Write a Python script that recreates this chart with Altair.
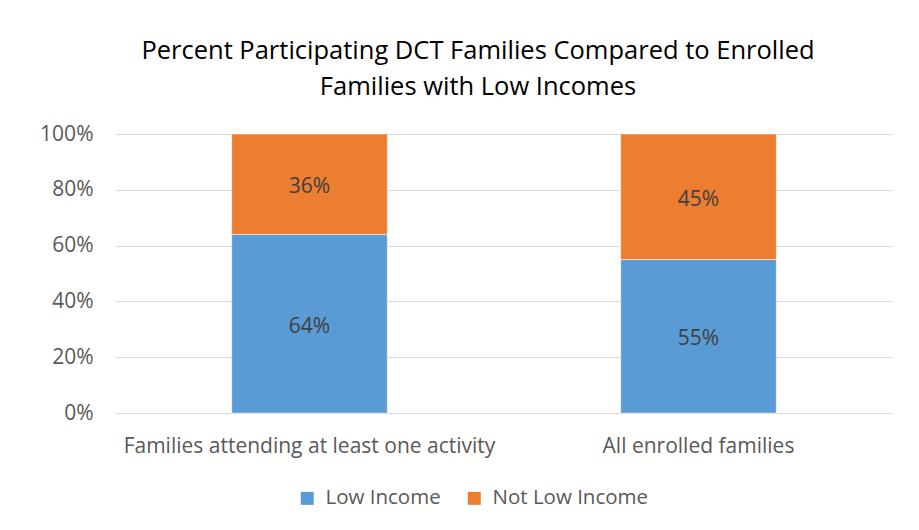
import altair as alt
import pandas as pd

categories = ["Families attending at least one activity", "All enrolled families"]
series = ["Low Income", "Not Low Income"]
low_income = [64, 55]
not_low_income = [36, 45]
colors = ["#5B9BD5", "#ED7D31"]

rows = []
for i, c in enumerate(categories):
    rows.append({"cat": c, "series": series[0], "order": 0, "value": low_income[i]})
    rows.append({"cat": c, "series": series[1], "order": 1, "value": not_low_income[i]})
df = pd.DataFrame(rows)

FONT = "Open Sans"

x = alt.X("cat:N", sort=categories, title=None,
          scale=alt.Scale(paddingInner=0.6, paddingOuter=0.3),
          axis=alt.Axis(labelAngle=0, labelFontSize=21, labelColor="#595959",
                        labelFont=FONT, domain=False, ticks=False, labelPadding=22,
                        labelLimit=500, grid=False))

base = alt.Chart(df).transform_stack(
    stack="value", groupby=["cat"], as_=["y0", "y1"],
    sort=[alt.SortField("order", order="ascending")]
).transform_calculate(
    mid="(datum.y0 + datum.y1) / 2",
    label="datum.value + '%'"
)

bars = base.mark_bar(stroke="white", strokeWidth=0.5).encode(
    x=x,
    y=alt.Y("y0:Q", title=None,
            scale=alt.Scale(domain=[0, 100], nice=False),
            axis=alt.Axis(values=[0, 20, 40, 60, 80, 100],
                          labelExpr="datum.value + '%'",
                          labelFontSize=21, labelColor="#595959", labelFont=FONT,
                          domain=False, ticks=False, labelPadding=22,
                          gridColor="#d9d9d9", gridWidth=1)),
    y2="y1:Q",
    color=alt.Color("series:N", sort=series,
                    scale=alt.Scale(domain=series, range=colors),
                    legend=alt.Legend(title=None, orient="none", direction="horizontal",
                                      legendX=182, legendY=354,
                                      symbolType="square", symbolSize=169,
                                      symbolStrokeWidth=0,
                                      labelFontSize=20.5, labelColor="#595959",
                                      labelFont=FONT, columnPadding=23,
                                      labelOffset=8)),
)

labels = base.mark_text(fontSize=21, color="#404040", font=FONT, dy=3).encode(
    x=alt.X("cat:N", sort=categories),
    y=alt.Y("mid:Q"),
    text="label:N",
)

chart = alt.layer(bars, labels).properties(
    width=778,
    height=279,
    autosize=alt.AutoSizeParams(type="none"),
    padding={"left": 107, "top": 126, "right": 18, "bottom": 109},
    title=alt.TitleParams(
        text=["Percent Participating DCT Families Compared to Enrolled",
              "Families with Low Incomes"],
        fontSize=25.5, font=FONT, fontWeight="normal", color="#000000",
        anchor="middle", dx=-26, lineHeight=36, offset=23,
    ),
).configure(background="white").configure_view(stroke=None)

chart.save("out.html", embed_options={"renderer": "svg", "actions": False})
